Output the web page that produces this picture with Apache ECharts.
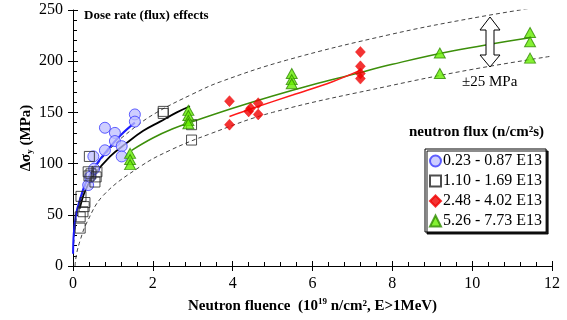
<!DOCTYPE html>
<html>
<head>
<meta charset="utf-8">
<script src="https://cdn.jsdelivr.net/npm/echarts@6/dist/echarts.min.js"></script>
<style>
    html, body { margin: 0; padding: 0; background: #fff; }
    #doseChart { width: 567px; height: 320px; }
</style>
</head>
<body>
<div id="doseChart"></div>
<script>
// 读图得到的数据点 [通量, Δσy]
var circlePts = [[0.38,79],[0.43,87],[0.53,95],[0.51,107],[0.8,113],[0.8,135],[1.05,130],[1.05,122],[1.22,117],[1.22,107],[1.55,148],[1.55,141]];
var squarePts = [[0.18,37],[0.18,48],[0.25,53],[0.28,58],[0.3,62],[0.2,68],[0.41,107],[0.38,92],[0.45,90],[0.4,88],[0.58,87],[0.55,82],[0.6,92],[2.26,149],[2.26,151],[2.97,138],[2.97,123]];
var diamondPts = [[3.92,161],[3.92,138],[4.4,151],[4.45,154],[4.64,159],[4.64,148],[7.2,209],[7.2,195],[7.2,188],[7.2,183]];
var trianglePts = [[1.43,110],[1.43,104],[1.43,99],[2.89,152],[2.89,147],[2.89,142],[2.89,139],[5.48,188],[5.48,182],[5.48,178],[9.19,208],[9.19,188],[11.45,228],[11.45,219],[11.45,203]];

// 拟合曲线与 ±25 MPa 包络线
var blueFit = [[0.002,12],[0.02,32],[0.075,50],[0.15,62],[0.33,82],[0.6,100],[0.9,115],[1.2,128],[1.55,140]];
var blackFit = [[0.17,56],[0.3,73],[0.51,88],[0.93,107],[1.34,120],[1.76,132],[2.18,141],[2.6,150],[2.93,156]];
var greenFit = [[1.47,113],[2,125],[2.5,134],[3,141],[4,154],[5,166],[6,177],[7,187],[8,197],[9.5,210],[11.45,223]];
var redFit = [[3.92,146],[4.5,154],[5.5,167],[6.5,180],[7.19,191]];
var upperBand = [[0.02,22],[0.08,45],[0.2,66],[0.4,86],[0.9,113],[1.5,134],[2.1,150],[3,168],[3.7,180],[5.35,201],[7.94,226],[10,242],[12,255]];
var lowerBand = [[0.05,0],[0.09,12],[0.18,25],[0.34,42],[0.76,69],[1.68,97],[2.43,113],[3.43,129],[5,150],[7.94,176],[10,192],[12,205]];

var legendNames = ['0.23 - 0.87 E13', '1.10 - 1.69 E13', '2.48 - 4.02 E13', '5.26 - 7.73 E13'];

var serif = 'Liberation Serif';

function fitLine(data, color, width, dashed) {
    return {
        type: 'line',
        data: data,
        smooth: 0.4,
        showSymbol: false,
        symbol: 'none',
        silent: true,
        z: 2,
        lineStyle: {
            color: color,
            width: width,
            type: dashed ? [4, 3] : 'solid'
        }
    };
}

var doseChart = echarts.init(document.getElementById('doseChart'));
var doseOption = {
    backgroundColor: '#fff',
    animation: false,
    textStyle: { fontFamily: serif },
    grid: {
        left: 73,
        right: 15,
        top: 10,
        bottom: 54
    },
    legend: {
        data: legendNames,
        orient: 'vertical',
        left: 425,
        top: 149,
        itemWidth: 11,
        itemHeight: 11,
        itemGap: 4,
        padding: [4, 4, 3, 4],
        backgroundColor: '#fff',
        borderColor: '#000',
        borderWidth: 1,
        shadowColor: 'rgba(0,0,0,0.9)',
        shadowOffsetX: 2,
        shadowOffsetY: 2,
        shadowBlur: 0,
        textStyle: { fontFamily: serif, fontSize: 16, color: '#000', padding: [0, 0, 0, -3] }
    },
    graphic: [{
        type: 'text',
        left: 84,
        top: 9,
        style: { text: 'Dose rate (flux) effects', font: 'bold 13px "Liberation Serif"', fill: '#000' }
    }, {
        type: 'text',
        left: 409,
        top: 125,
        style: { text: 'neutron flux (n/cm²s)', font: 'bold 15px "Liberation Serif"', fill: '#000' }
    }, {
        type: 'text',
        left: 462,
        top: 75,
        style: { text: '±25 MPa', font: '15px "Liberation Serif"', fill: '#000' }
    }, {
        // 双向空心箭头
        type: 'polygon',
        shape: {
            points: [[490,17],[500,30],[494,30],[494,55],[500,55],[490,67],[480,55],[486,55],[486,30],[480,30]]
        },
        style: { fill: '#fff', stroke: '#000', lineWidth: 1 },
        z: 5
    }],
    xAxis: [{
        type: 'value',
        min: 0,
        max: 12,
        interval: 2,
        name: '{b|Neutron fluence  (10}{s|19}{b| n/cm², E>1MeV)}',
        nameLocation: 'middle',
        nameGap: 30,
        nameTextStyle: {
            rich: {
                b: { fontFamily: serif, fontWeight: 'bold', fontSize: 15, color: '#000' },
                s: { fontFamily: serif, fontWeight: 'bold', fontSize: 9, color: '#000', verticalAlign: 'top', lineHeight: 18 }
            }
        },
        axisLine: { lineStyle: { color: '#000', width: 1 } },
        axisTick: { length: 5, lineStyle: { color: '#000' } },
        axisLabel: { color: '#000', fontFamily: serif, fontSize: 16, margin: 10 },
        splitLine: { show: false }
    }, {
        // 只画内侧刻度
        type: 'value',
        position: 'bottom',
        min: 0,
        max: 12,
        interval: 2,
        axisLine: { show: false },
        axisTick: { inside: true, length: 5, lineStyle: { color: '#000' } },
        minorTick: { show: true, splitNumber: 5, length: 4, lineStyle: { color: '#000' } },
        axisLabel: { show: false },
        splitLine: { show: false }
    }],
    yAxis: [{
        type: 'value',
        min: 0,
        max: 250,
        interval: 50,
        name: '{b|Δσ}{s|y}{b| (MPa)}',
        nameLocation: 'middle',
        nameRotate: 90,
        nameGap: 39,
        nameMoveOverlap: false,
        nameTextStyle: {
            rich: {
                b: { fontFamily: serif, fontWeight: 'bold', fontSize: 15, color: '#000' },
                s: { fontFamily: serif, fontWeight: 'bold', fontSize: 9, color: '#000', verticalAlign: 'bottom', lineHeight: 12 }
            }
        },
        axisLine: { show: true, lineStyle: { color: '#000', width: 1 } },
        axisTick: { show: true, length: 5, lineStyle: { color: '#000' } },
        axisLabel: { color: '#000', fontFamily: serif, fontSize: 16, margin: 10 },
        splitLine: { show: false }
    }, {
        type: 'value',
        position: 'left',
        min: 0,
        max: 250,
        interval: 50,
        axisLine: { show: false },
        axisTick: { show: true, inside: true, length: 5, lineStyle: { color: '#000' } },
        minorTick: { show: true, splitNumber: 5, length: 4, lineStyle: { color: '#000' } },
        axisLabel: { show: false },
        splitLine: { show: false }
    }],
    series: [
        fitLine(upperBand, '#444', 1, true),
        fitLine(lowerBand, '#444', 1, true),
        fitLine(blueFit, '#1a1aff', 2, false),
        fitLine(blackFit, '#000', 1.8, false),
        fitLine(greenFit, '#3c8f0a', 1.5, false),
        fitLine(redFit, '#ff1a1a', 1.5, false),
        {
            name: legendNames[0],
            type: 'scatter',
            data: circlePts,
            symbol: 'circle',
            symbolSize: 11,
            z: 4,
            itemStyle: { color: 'rgba(190,190,255,0.95)', borderColor: '#3a3aff', borderWidth: 1 }
        }, {
            name: legendNames[1],
            type: 'scatter',
            data: squarePts,
            symbol: 'rect',
            symbolSize: 10,
            z: 4,
            itemStyle: { color: 'rgba(255,255,255,0)', borderColor: '#222', borderWidth: 1 }
        }, {
            name: legendNames[2],
            type: 'scatter',
            data: diamondPts,
            symbol: 'diamond',
            symbolSize: [10, 11],
            z: 4,
            itemStyle: { color: '#f00000', borderColor: '#f00000', borderWidth: 0.5 }
        }, {
            name: legendNames[3],
            type: 'scatter',
            data: trianglePts,
            symbol: 'triangle',
            symbolSize: [11, 10],
            z: 4,
            itemStyle: { color: '#66ee00', borderColor: '#2f8a00', borderWidth: 1 }
        }
    ]
};
doseChart.setOption(doseOption);
</script>
</body>
</html>
